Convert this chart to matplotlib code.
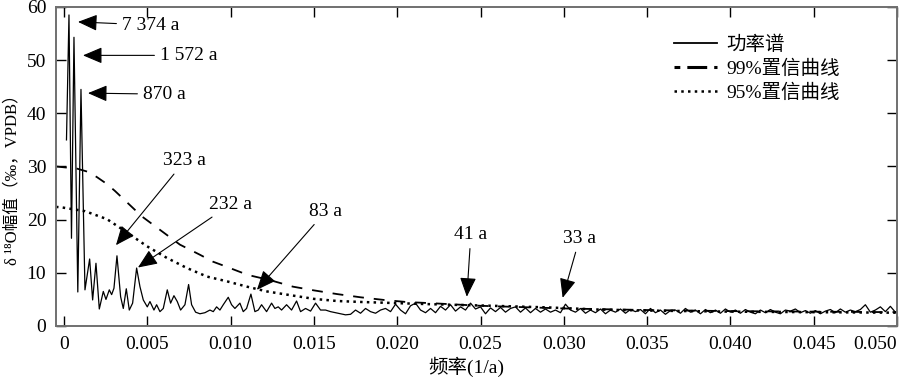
import matplotlib
matplotlib.use("Agg")
import matplotlib.pyplot as plt
from matplotlib.lines import Line2D

plt.rcParams['font.family'] = ['Liberation Serif', 'Noto Sans CJK SC', 'DejaVu Serif']

# ---- data ----
spec_f = [0.00015, 0.00030, 0.00045, 0.00060, 0.00083, 0.00102, 0.00126, 0.00154, 0.00172, 0.00192,
          0.00212, 0.00236, 0.00252, 0.00272, 0.00286, 0.00300, 0.00318, 0.00340, 0.00356, 0.00374,
          0.00392, 0.00412, 0.00436, 0.00456, 0.00476, 0.00500, 0.00516, 0.00540, 0.00556, 0.00576,
          0.00596, 0.00620, 0.00640, 0.00660, 0.00680, 0.00700, 0.00726, 0.00748, 0.00766, 0.00790,
          0.00816, 0.00846, 0.00876, 0.00896, 0.00916, 0.00936, 0.00956, 0.00986, 0.01006, 0.01026,
          0.01056, 0.01076, 0.01096, 0.01122, 0.01146, 0.01166, 0.01186, 0.01216, 0.01246, 0.01266,
          0.01286, 0.01306, 0.01336, 0.01366, 0.01396,
          0.0142, 0.0145, 0.0148, 0.0151, 0.0154, 0.0157, 0.0160, 0.0163, 0.0166, 0.0169,
          0.0172, 0.0175, 0.0178, 0.0181, 0.0184, 0.0187, 0.0190, 0.0193, 0.0196, 0.0199,
          0.0202, 0.0205, 0.0208, 0.0211, 0.0214, 0.0217, 0.0220, 0.0223, 0.0226, 0.0229,
          0.0232, 0.0235, 0.0238, 0.0241, 0.0244, 0.0247, 0.0250, 0.0253, 0.0256, 0.0259,
          0.0262, 0.0265, 0.0268, 0.0271, 0.0274, 0.0277, 0.0280, 0.0283, 0.0286, 0.0289,
          0.0292, 0.0295, 0.0298, 0.0301, 0.0304, 0.0307, 0.0310, 0.0313, 0.0316, 0.0319,
          0.0322, 0.0325, 0.0328, 0.0331, 0.0334, 0.0337, 0.0340, 0.0343, 0.0346, 0.0349,
          0.0352, 0.0355, 0.0358, 0.0361, 0.0364, 0.0367, 0.0370, 0.0373, 0.0376, 0.0379,
          0.0382, 0.0385, 0.0388, 0.0391, 0.0394, 0.0397, 0.0400, 0.0403, 0.0406, 0.0409,
          0.0412, 0.0415, 0.0418, 0.0421, 0.0424, 0.0427, 0.0430, 0.0433, 0.0436, 0.0439,
          0.0442, 0.0445, 0.0448, 0.0451, 0.0454, 0.0457, 0.0460, 0.0463, 0.0466, 0.0469,
          0.0472, 0.0475, 0.0478, 0.0481, 0.0484, 0.0487, 0.0490, 0.0493, 0.0496, 0.0499, 0.0500]
spec_v = [35.0, 58.5, 16.5, 54.3, 6.4, 44.5, 6.8, 12.6, 4.9, 11.8,
          3.2, 6.5, 5.0, 6.8, 5.9, 7.1, 13.2, 5.5, 3.3, 7.0,
          3.0, 4.3, 10.9, 7.4, 4.9, 3.6, 4.6, 3.0, 4.0, 2.7,
          3.3, 6.8, 4.3, 5.7, 4.6, 3.0, 4.0, 7.8, 4.0, 2.6,
          2.3, 2.5, 3.0, 2.7, 3.6, 3.0, 4.0, 5.4, 4.0, 3.3,
          4.3, 2.7, 3.3, 6.0, 2.7, 3.0, 4.0, 2.7, 4.3, 3.3,
          3.6, 3.0, 4.0, 3.0, 4.7,
          2.7, 3.3, 2.8, 4.3, 3.0, 3.0, 2.7, 2.5, 2.3, 2.1,
          2.2, 3.0, 2.4, 3.3, 2.7, 2.4, 3.0, 3.3, 2.7, 4.1,
          3.0, 2.3, 3.8, 4.3, 3.0, 2.5, 3.3, 2.5, 3.7, 3.0,
          4.0, 2.8, 3.6, 3.0, 4.3, 3.2, 3.6, 2.3, 3.4, 2.7,
          3.5, 2.6, 3.3, 3.6, 2.6, 3.4, 2.5, 3.3, 2.6, 3.2,
          2.6, 3.0, 2.5, 4.1, 3.0, 2.6, 3.3, 2.4, 3.0, 2.5,
          3.2, 2.3, 3.0, 2.6, 3.2, 2.4, 3.1, 2.7, 3.1, 2.3,
          3.3, 2.5, 3.0, 2.2, 2.9, 3.0, 2.4, 3.3, 2.6, 3.0,
          2.3, 3.1, 2.5, 3.0, 2.4, 3.2, 2.6, 3.0, 2.4, 3.1,
          2.6, 2.3, 3.0, 2.5, 3.1, 2.6, 2.3, 3.0, 2.8, 3.2,
          2.5, 2.9, 2.4, 2.9, 2.3, 2.8, 3.1, 2.5, 3.2, 2.6,
          3.0, 2.7, 3.1, 4.0, 2.6, 3.0, 3.6, 2.7, 3.7, 2.6, 2.8]

c99_f = [-0.00048, 0.00078, 0.00144, 0.00198, 0.00258, 0.00306, 0.00468, 0.00696, 0.00816, 0.00894,
         0.00954, 0.01104, 0.0124, 0.01374, 0.0150, 0.0164, 0.0178, 0.0192, 0.0206, 0.0220,
         0.0250, 0.0280, 0.0300, 0.0350, 0.0400, 0.0450, 0.0500]
c99_v = [30.0, 29.6, 29.0, 28.0, 26.7, 25.4, 20.6, 15.3, 13.4, 12.1,
         11.4, 9.6, 8.6, 7.4, 6.7, 6.0, 5.4, 4.9, 4.5, 4.3,
         3.8, 3.5, 3.3, 3.0, 2.8, 2.7, 2.6]

c95_f = [-0.00048, -0.00012, 0.00126, 0.00258, 0.00378, 0.00498, 0.00618, 0.00738, 0.00858, 0.00978,
         0.01098, 0.01218, 0.01338, 0.0144, 0.0150, 0.0164, 0.0180, 0.0200, 0.0220, 0.0257,
         0.0290, 0.0320, 0.0350, 0.0400, 0.0450, 0.0500]
c95_v = [22.4, 22.3, 21.6, 20.1, 17.6, 15.0, 12.8, 10.9, 9.3, 8.4,
         7.4, 6.5, 5.9, 5.4, 5.1, 4.7, 4.5, 4.3, 4.1, 3.8,
         3.5, 3.1, 2.9, 2.7, 2.6, 2.5]

ann_labels = ['7 374 a', '1 572 a', '870 a', '323 a', '232 a', '83 a', '41 a', '33 a']
ann_tip_f = [0.00084, 0.00114, 0.00144, 0.00312, 0.00444, 0.01158, 0.02418, 0.02993]
ann_tip_v = [57.2, 50.9, 43.8, 15.2, 11.0, 6.8, 5.5, 5.3]

xticks = [0, 0.005, 0.010, 0.015, 0.020, 0.025, 0.030, 0.035, 0.040, 0.045, 0.050]
xtick_labels = ['0', '0.005', '0.010', '0.015', '0.020', '0.025', '0.030', '0.035', '0.040', '0.045', '0.050']
yticks = [0, 10, 20, 30, 40, 50, 60]
legend_labels = ['功率谱', '99%置信曲线', '95%置信曲线']

# ---- figure ----
fig = plt.figure(figsize=(9, 3.82), dpi=100)
ax = fig.add_axes([0.0622, 0.1466, 0.9345, 0.8351])

ax.plot(spec_f, spec_v, color='black', lw=0.9)
ax.plot(c99_f, c99_v, color='black', lw=1.3, linestyle=(0, (6, 5.5)))
ax.plot(c95_f, c95_v, color='black', lw=1.8, linestyle=(0, (1, 1.7)))

ax.set_xlim(-0.00048, 0.0500)
ax.set_ylim(0, 60)
ax.set_xticks(xticks)
ax.set_xticklabels(xtick_labels)
ax.get_xticklabels()[-1].set_horizontalalignment('right')
ax.set_yticks(yticks)
ax.tick_params(direction='in', length=7, width=1, top=True, right=True,
               labelsize=14, pad=7, colors='black')
for s in ax.spines.values():
    s.set_color('#707070')
    s.set_linewidth(1.4)

ax.set_xlabel('频率(1/a)', fontsize=14)
ax.xaxis.set_label_coords(0.488, -0.095)
ax.set_ylabel('δ ¹⁸O幅值（‰，VPDB）', fontsize=12)
ax.yaxis.set_label_coords(-0.043, 0.47)

# annotations: text positions in data coords (layout)
text_pos = [(0.00348, 56.6, 'left'), (0.00576, 50.9, 'left'), (0.00474, 43.6, 'left'),
            (0.00726, 31.1, 'center'), (0.01002, 22.9, 'center'), (0.01572, 21.6, 'center'),
            (0.02442, 17.2, 'center'), (0.03095, 16.5, 'center')]
for lab, tf, tv, (xf, yv, ha) in zip(ann_labels, ann_tip_f, ann_tip_v, text_pos):
    ax.annotate(lab, xy=(tf, tv), xytext=(xf, yv), ha=ha, va='center', fontsize=14,
                arrowprops=dict(arrowstyle='-|>,head_length=0.85,head_width=0.36',
                                color='black', lw=0.8, shrinkA=2, shrinkB=0))

handles = [Line2D([], [], color='black', lw=1.3),
           Line2D([], [], color='black', lw=2.2, linestyle=(4.6, (6.5, 2.3))),
           Line2D([], [], color='black', lw=1.8, linestyle=(0, (1, 1.7)))]
ax.legend(handles, legend_labels, loc='upper left', bbox_to_anchor=(0.735, 0.912),
          frameon=False, fontsize=14, handlelength=2.2, handletextpad=0.5,
          labelspacing=0.3, borderpad=0, borderaxespad=0)

fig.savefig('out.png', dpi=100)
